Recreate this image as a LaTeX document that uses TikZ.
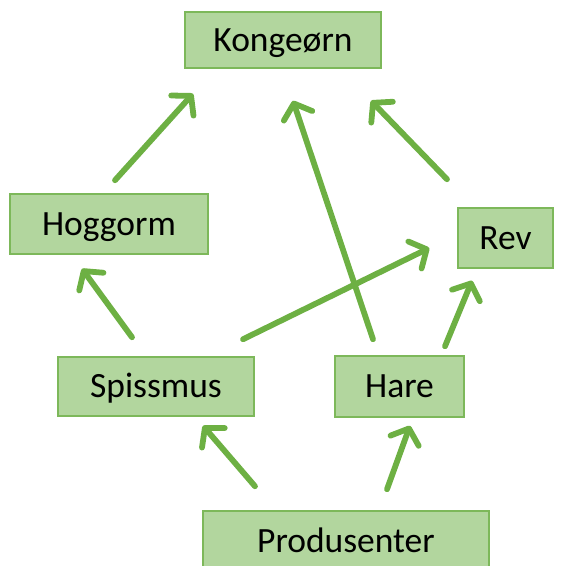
\documentclass[tikz,border=0pt]{standalone}
\usepackage{fontspec}
\setmainfont{Carlito}
\usetikzlibrary{arrows.meta,calc}
\definecolor{boxfill}{HTML}{B2D69E}
\definecolor{boxline}{HTML}{7DB85A}
\definecolor{arrowgreen}{HTML}{6DB043}
\begin{document}
\begin{tikzpicture}[x=1pt,y=1pt,
  species/.style={draw=boxline,line width=1.5pt,fill=boxfill,inner sep=0pt,
    minimum height=#1, font=\fontsize{35.5}{38}\selectfont, text=black,
    text height=22.5pt, text depth=0pt},
  species/.default=60pt,
  feeds/.style={draw=arrowgreen,line width=5.8pt,line cap=round,
    -{Straight Barb[length=13pt,width=30pt,line cap=round,line join=round]}}]
\useasboundingbox (0,0) rectangle (563,-566);
\clip (0,0) rectangle (563,-566);
% species boxes
\node[species=56pt,minimum width=196pt] (kong) at (283,-40) {Kongeørn};
\node[species=60pt,minimum width=198pt] (hog) at (109,-224) {Hoggorm};
\node[species=60pt,minimum width=95pt] (rev) at (505.5,-238) {Rev};
\node[species=59pt,minimum width=196pt] (spis) at (156,-386.5) {Spissmus};
\node[species=61pt,minimum width=129pt] (hare) at (399.5,-386.5) {Hare};
\node[species=60pt,minimum width=286pt] (prod) at (346,-541) {Produsenter};
% who eats whom
\draw[feeds] ($(hog.north)+(6,13)$) -- ($(kong.south)+(-90,-25)$);
\draw[feeds] ($(hare.north)+(-26.5,16)$) -- ($(kong.south)+(10,-32)$);
\draw[feeds] ($(rev.north)+(-58.5,28)$) -- ($(kong.south)+(88,-32)$);
\draw[feeds] ($(spis.north)+(-24,19)$) -- ($(hog.south)+(-27,-14)$);
\draw[feeds] ($(spis.north)+(87,17)$) -- ($(rev.west)+(-28,-10)$);
\draw[feeds] ($(hare.north)+(45.5,9)$) -- ($(rev.south)+(-33.5,-12)$);
\draw[feeds] ($(prod.north)+(-91,24)$) -- ($(spis.south)+(47,-9)$);
\draw[feeds] ($(prod.north)+(41,21)$) -- ($(hare.south)+(10.5,-8)$);
\end{tikzpicture}
\end{document}
